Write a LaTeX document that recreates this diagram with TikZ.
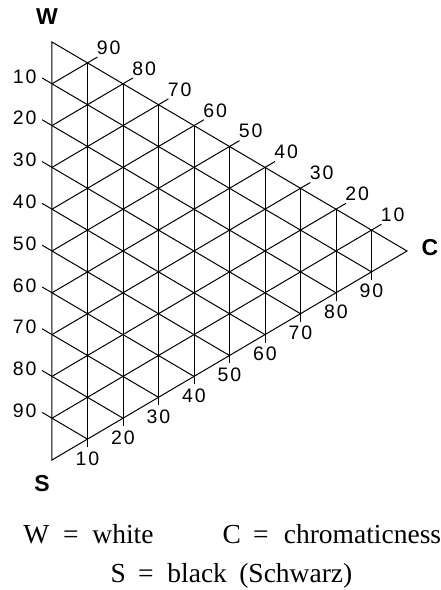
\documentclass[tikz,border=0pt]{standalone}
\usepackage{fontspec}
\setmainfont{Liberation Serif}
\setsansfont{Liberation Sans}
\newfontfamily\scalefont[LetterSpace=10]{Liberation Sans}
\usetikzlibrary{calc}

\begin{document}
\begin{tikzpicture}[x=35.5pt, y=41.8pt, line width=1pt,
  scalelabel/.style={font=\scalefont\fontsize{19.5}{19.5}\selectfont, inner sep=1pt},
  corner/.style={font=\sffamily\bfseries\fontsize{23}{23}\selectfont},
  legend/.style={font=\fontsize{27.5}{27.5}\selectfont, anchor=base west, inner sep=0pt}]
  \useasboundingbox (-52pt,-130pt) rectangle (388pt,460pt);

  % Corners of the triangle
  \coordinate (S) at (0,0);
  \coordinate (W) at (0,10);
  \coordinate (C) at (10,5);
  \draw (W) -- (S) -- (C) -- cycle;

  % Grid lines with their ticks and scale numbers
  \foreach \k in {1,...,9}{
    \pgfmathtruncatemacro{\n}{10*\k}
    % black content: lines parallel to W--C
    \coordinate (sl\k) at (-0.28, 10-\k+0.14);
    \coordinate (sr\k) at (10-\k, 5-\k/2);
    \draw (sl\k) -- (sr\k);
    \node[scalelabel, anchor=east, xshift=-4pt, yshift=1.5pt] (sn\k) at (sl\k) {\n};
    % white content: lines parallel to S--C
    \coordinate (wl\k) at (0, \k);
    \coordinate (wr\k) at (10-\k+0.28, 5+\k/2+0.14);
    \draw (wl\k) -- (wr\k);
    \node[scalelabel, anchor=south west, xshift=-2pt, yshift=1pt] (wn\k) at (wr\k) {\n};
    % chromaticness: vertical lines
    \coordinate (cb\k) at (\k, \k/2-0.19);
    \coordinate (ct\k) at (\k, 10-\k/2);
    \draw (cb\k) -- (ct\k);
    \node[scalelabel, anchor=north, xshift=0pt, yshift=-3pt] (cn\k) at (cb\k) {\n};
  }

  % Corner letters
  \node[corner] (Wlab) at (-5pt, 443pt) {W};
  \node[corner] (Clab) at (378pt, 212pt) {C};
  \node[corner] (Slab) at (-10pt, -24pt) {S};

  % Legend
  \node[legend] (legW) at (-29pt, -83pt) {W\hspace{0.5em}=\hspace{0.5em}white};
  \node[legend] (legC) at (170pt, -83pt) {C\hspace{0.45em}=\hspace{0.55em}chromaticness};
  \node[legend] (legS) at (58pt, -122pt) {S\hspace{0.45em}=\hspace{0.5em}black\hspace{0.45em}(Schwarz)};
\end{tikzpicture}
\end{document}
